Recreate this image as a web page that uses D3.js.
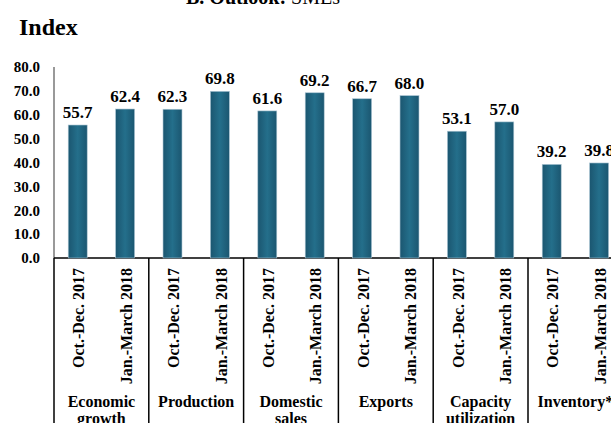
<!DOCTYPE html>
<html>
<head>
<meta charset="utf-8">
<script src="https://cdn.jsdelivr.net/npm/d3@7"></script>
<style>
  body { margin: 0; background: #fff; }
  svg { display: block; font-family: 'Liberation Serif', 'Times New Roman', serif; }
</style>
</head>
<body>
<div id="chart"></div>
<script>
const categories = [['Economic', 'growth'], ['Production'], ['Domestic', 'sales'], ['Exports'], ['Capacity', 'utilization'], ['Inventory*']]
const periods = ['Oct.-Dec. 2017', 'Jan.-March 2018']
const octDec = [55.7, 62.3, 61.6, 66.7, 53.1, 39.2]
const janMar = [62.4, 69.8, 69.2, 68.0, 57.0, 39.8]
const yTicks = [0, 10, 20, 30, 40, 50, 60, 70, 80]

const width = 611
const height = 423
const plotLeft = 54
const plotBase = 258
const plotTop = 67
const groupW = 94.8

const data = categories.map((c, i) => ({
	key: c.join(' '),
	lines: c,
	values: [octDec[i], janMar[i]]
}))

const svg = d3.select('#chart').append('svg')
	.attr('width', width)
	.attr('height', height)

const defs = svg.append('defs')
const grad = defs.append('linearGradient')
	.attr('id', 'barGrad')
	.attr('x1', '0%').attr('x2', '100%')
grad.append('stop').attr('offset', '0%').attr('stop-color', '#1b5670')
grad.append('stop').attr('offset', '50%').attr('stop-color', '#246f8b')
grad.append('stop').attr('offset', '100%').attr('stop-color', '#1b5670')

const scaleX = d3.scaleBand()
	.domain(data.map(d => d.key))
	.range([plotLeft, plotLeft + groupW * categories.length])
	.padding(0)

const scaleInner = d3.scaleBand()
	.domain(periods)
	.range([0, scaleX.bandwidth()])
	.paddingInner(0.6)
	.paddingOuter(0.3)

const scaleY = d3.scaleLinear()
	.domain([0, 80])
	.range([plotBase, plotTop])

// title (cut off at the top)
svg.append('text')
	.attr('x', 263)
	.attr('y', 4)
	.attr('text-anchor', 'middle')
	.style('font-size', '20px')
	.style('font-weight', 'bold')
	.text('B. Outlook: ')
	.append('tspan')
	.style('font-weight', 'normal')
	.text('SMEs')

svg.append('text')
	.attr('x', 19)
	.attr('y', 35)
	.style('font-size', '24px')
	.style('font-weight', 'bold')
	.text('Index')

// y axis
const axisLeft = d3.axisLeft(scaleY)
	.tickValues(yTicks)
	.tickSize(0)
	.tickPadding(14)
	.tickFormat(d3.format('.1f'))

const yAxis = svg.append('g')
	.attr('class', 'axis axis--y')
	.attr('transform', `translate(${plotLeft}, 0)`)
	.call(axisLeft)

yAxis.select('.domain').remove()
yAxis.selectAll('text')
	.style('font-family', "'Liberation Serif', serif")
	.style('font-size', '15px')
	.style('font-weight', 'bold')
	.attr('fill', '#000')

// axis lines
svg.append('line')
	.attr('x1', plotLeft).attr('x2', plotLeft)
	.attr('y1', plotTop).attr('y2', plotBase)
	.attr('stroke', '#777')
	.attr('stroke-width', 1.5)

svg.append('line')
	.attr('x1', plotLeft).attr('x2', width)
	.attr('y1', plotBase).attr('y2', plotBase)
	.attr('stroke', '#000')
	.attr('stroke-width', 1.5)

// group separators
svg.append('g')
	.selectAll('line')
	.data(data)
	.join('line')
	.attr('x1', d => scaleX(d.key) + scaleX.bandwidth())
	.attr('x2', d => scaleX(d.key) + scaleX.bandwidth())
	.attr('y1', plotBase)
	.attr('y2', height)
	.attr('stroke', '#000')
	.attr('stroke-width', 1.5)

svg.append('line')
	.attr('x1', plotLeft).attr('x2', plotLeft)
	.attr('y1', plotBase).attr('y2', height)
	.attr('stroke', '#000')
	.attr('stroke-width', 1.5)

// bars
const group = svg.append('g')
	.selectAll('.group')
	.data(data)
	.join('g')
	.attr('class', 'group')
	.attr('transform', d => `translate(${scaleX(d.key)}, 0)`)

const bars = group.selectAll('.bar')
	.data(d => d.values.map((v, i) => ({ period: periods[i], value: v })))
	.join('g')
	.attr('class', 'bar')

bars.append('rect')
	.attr('x', d => scaleInner(d.period))
	.attr('y', d => scaleY(d.value))
	.attr('width', scaleInner.bandwidth())
	.attr('height', d => plotBase - scaleY(d.value))
	.attr('fill', 'url(#barGrad)')
	.attr('stroke', '#a9c4d2')
	.attr('stroke-width', 0.6)

bars.append('text')
	.attr('x', d => scaleInner(d.period) + scaleInner.bandwidth() / 2)
	.attr('y', d => scaleY(d.value) - 7)
	.attr('text-anchor', 'middle')
	.style('font-size', '17px')
	.style('font-weight', 'bold')
	.text(d => d.value.toFixed(1))

// rotated period labels
bars.append('text')
	.attr('transform', d => `translate(${scaleInner(d.period) + scaleInner.bandwidth() / 2 + 1}, 268) rotate(-90)`)
	.attr('dy', '0.35em')
	.attr('text-anchor', 'end')
	.style('font-size', '16px')
	.style('font-weight', 'bold')
	.text(d => d.period)

// category labels
group.append('text')
	.attr('x', scaleX.bandwidth() / 2)
	.attr('y', 407)
	.attr('text-anchor', 'middle')
	.style('font-size', '16px')
	.style('font-weight', 'bold')
	.selectAll('tspan')
	.data(d => d.lines)
	.join('tspan')
	.attr('x', scaleX.bandwidth() / 2)
	.attr('dy', (d, i) => i === 0 ? 0 : 17)
	.text(d => d)
</script>
</body>
</html>
